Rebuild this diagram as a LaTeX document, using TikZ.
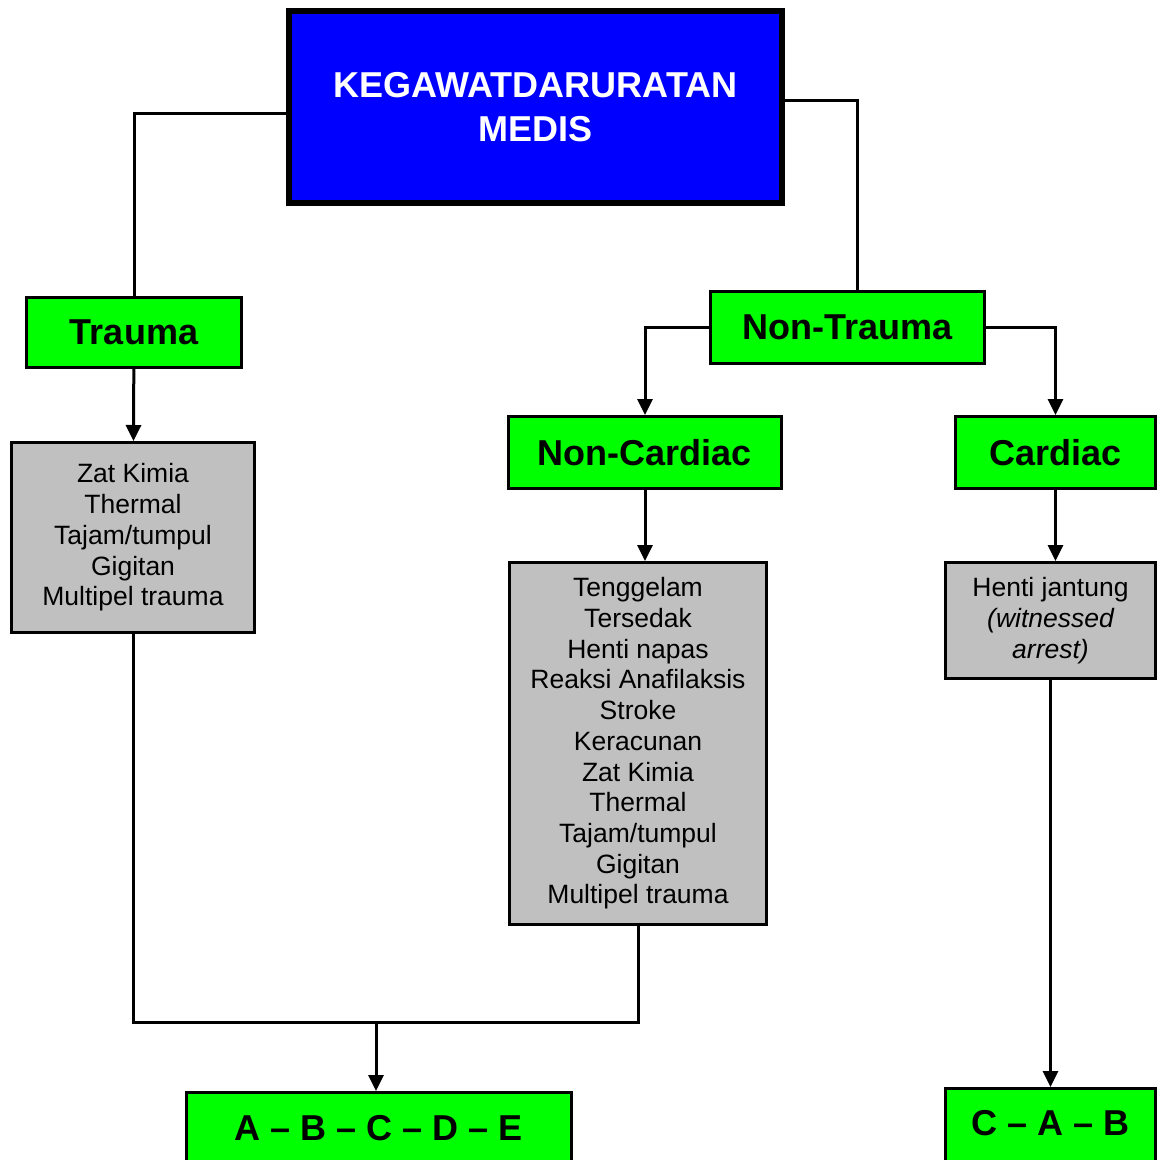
\documentclass[tikz,border=0pt]{standalone}
\usepackage{fontspec}
\setmainfont{Liberation Sans}
\usetikzlibrary{arrows.meta}
\definecolor{boxblue}{RGB}{0,0,255}
\definecolor{boxgreen}{RGB}{0,255,0}
\definecolor{boxgray}{RGB}{192,192,192}
\begin{document}
\begin{tikzpicture}[x=1pt,y=-1pt,
    title/.style={draw,line width=6pt,fill=boxblue,text=white,align=center,
      font=\fontsize{36}{44}\selectfont\bfseries,minimum width=493pt,minimum height=192pt},
    group/.style={draw,line width=3pt,fill=boxgreen,align=center,
      font=\fontsize{36}{42}\selectfont\bfseries,minimum height=72pt},
    list/.style={draw,line width=3pt,fill=boxgray,align=center,
      font=\fontsize{26.5}{30.7}\selectfont},
    link/.style={line width=3pt},
    arrow/.style={link,-{Triangle[length=16pt,width=15pt]}}]
  \useasboundingbox (0,0) rectangle (1157,1160);
  \draw
    (535.5,107) node[title] (top){KEGAWATDARURATAN\\MEDIS}
    (134,332.5) node[group,minimum width=215pt,minimum height=70pt] (trauma){Trauma}
    (847.5,327.5) node[group,minimum width=274pt] (ntrauma){Non-Trauma}
    (645,452.5) node[group,minimum width=273pt] (noncard){Non-Cardiac}
    (1055.5,452.5) node[group,minimum width=200pt] (card){Cardiac}
    (133,537.5) node[list,minimum width=243pt,minimum height=190pt] (ltrauma){Zat Kimia\\Thermal\\Tajam/tumpul\\Gigitan\\Multipel trauma}
    (638,743.5) node[list,minimum width=257pt,minimum height=362pt] (lnoncard){Tenggelam\\Tersedak\\Henti napas\\Reaksi Anafilaksis\\Stroke\\Keracunan\\Zat Kimia\\Thermal\\Tajam/tumpul\\Gigitan\\Multipel trauma}
    (1050.5,620.5) node[list,minimum width=210pt,minimum height=116pt] (lcard){Henti jantung\\\itshape(witnessed\\\itshape arrest)}
    (379,1138) node[group,minimum width=385pt,minimum height=91pt,text height=26pt,text depth=22pt] (abcde){A -- B -- C -- D -- E}
    (1050.5,1134) node[group,minimum width=210pt,minimum height=91pt,text height=26pt,text depth=24pt] (cab){C -- A -- B};
  \coordinate (join) at (376,1022);
  \begin{scope}[link]
    \draw ([yshift=-6pt]top.west) -| (trauma.north);
    \draw ([yshift=7pt]top.east) -| ([xshift=10pt]ntrauma.north);
    \draw (ltrauma.south) |- (join) -| (lnoncard.south);
  \end{scope}
  \begin{scope}[arrow]
    \draw (trauma) to (ltrauma);
    \draw (ntrauma.west) -| (noncard.north);
    \draw (ntrauma.east) -| (card.north);
    \draw (noncard) to (noncard |- lnoncard.north);
    \draw (card) to (card |- lcard.north);
    \draw (join) to (join |- abcde.north);
    \draw (lcard) to (cab);
  \end{scope}
\end{tikzpicture}
\end{document}
